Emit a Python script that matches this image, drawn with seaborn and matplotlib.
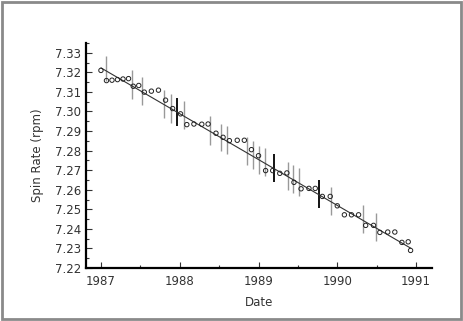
import numpy as np
import pandas as pd
import seaborn as sns
import matplotlib.pyplot as plt
from matplotlib.ticker import MultipleLocator, FormatStrFormatter
from matplotlib.patches import Rectangle

# measured spin rates
date = [1987.00, 1987.07, 1987.14, 1987.21, 1987.28, 1987.35, 1987.41, 1987.48,
        1987.55, 1987.64, 1987.73, 1987.82, 1987.91, 1988.01, 1988.09, 1988.18,
        1988.28, 1988.36, 1988.46, 1988.55, 1988.63, 1988.73, 1988.82, 1988.91,
        1989.00, 1989.09, 1989.18, 1989.27, 1989.36, 1989.45, 1989.54, 1989.64,
        1989.72, 1989.81, 1989.91, 1990.00, 1990.09, 1990.18, 1990.27, 1990.36,
        1990.46, 1990.54, 1990.64, 1990.73, 1990.82, 1990.90, 1990.93]
spin = [7.3210, 7.3158, 7.3160, 7.3163, 7.3166, 7.3168, 7.3129, 7.3133,
        7.3099, 7.3104, 7.3109, 7.3058, 7.3015, 7.2988, 7.2933, 7.2936,
        7.2935, 7.2936, 7.2889, 7.2868, 7.2851, 7.2853, 7.2853, 7.2805,
        7.2774, 7.2698, 7.2698, 7.2684, 7.2686, 7.2638, 7.2605, 7.2607,
        7.2607, 7.2566, 7.2566, 7.2518, 7.2472, 7.2472, 7.2472, 7.2418,
        7.2418, 7.2382, 7.2384, 7.2384, 7.2331, 7.2334, 7.2290]

# error bars
bar_x = [1987.06, 1987.39, 1987.52, 1987.80, 1987.89, 1987.97, 1988.05, 1988.38,
         1988.53, 1988.60, 1988.85, 1988.93, 1989.00, 1989.08, 1989.20, 1989.37,
         1989.44, 1989.51, 1989.77, 1989.92, 1990.32, 1990.49]
bar_hi = [7.3286, 7.3210, 7.3175, 7.3112, 7.3087, 7.3071, 7.3054, 7.2977,
          7.2938, 7.2926, 7.2870, 7.2848, 7.2822, 7.2812, 7.2783, 7.2744,
          7.2727, 7.2711, 7.2648, 7.2614, 7.2522, 7.2479]
bar_lo = [7.3155, 7.3066, 7.3032, 7.2967, 7.2942, 7.2928, 7.2909, 7.2831,
          7.2797, 7.2783, 7.2725, 7.2704, 7.2681, 7.2669, 7.2640, 7.2600,
          7.2583, 7.2566, 7.2506, 7.2472, 7.2378, 7.2338]
bar_dark = [0, 0, 0, 0, 0, 1, 0, 0, 0, 0, 0, 0, 0, 0, 1, 0, 0, 0, 1, 0, 0, 0]

# linear fit
fit_x = [1987.0, 1990.93]
fit_y = [7.3223, 7.2302]

sns.set_style("ticks")
plt.rcParams['font.family'] = ['DejaVu Sans']

fig = plt.figure(figsize=(4.63, 3.21), dpi=100)
ax = fig.add_axes([0.1857, 0.165, 0.747, 0.701])

for x, lo, hi, d in zip(bar_x, bar_lo, bar_hi, bar_dark):
    ax.vlines(x, lo, hi, color='black' if d else '#999999', lw=1.3 if d else 1.0, zorder=1)

sns.lineplot(x=fit_x, y=fit_y, color='#333333', lw=0.8, ax=ax, zorder=2)
sns.scatterplot(x=date, y=spin, marker='o', s=10, facecolor='none',
                edgecolor='#222222', linewidth=0.7, ax=ax, zorder=3)

ax.set_xlim(1986.81, 1991.2)
ax.set_ylim(7.22, 7.335)
ax.xaxis.set_major_locator(MultipleLocator(1))
ax.xaxis.set_minor_locator(MultipleLocator(0.5))
ax.yaxis.set_major_locator(MultipleLocator(0.01))
ax.yaxis.set_minor_locator(MultipleLocator(0.005))
ax.yaxis.set_major_formatter(FormatStrFormatter('%.2f'))
ax.tick_params(which='both', direction='in', colors='#333333', labelsize=8.5, width=0.8)
ax.tick_params(which='major', length=4)
ax.tick_params(which='minor', length=2)
ax.tick_params(axis='x', pad=5)
for s in ['top', 'right']:
    ax.spines[s].set_visible(False)
for s in ['left', 'bottom']:
    ax.spines[s].set_linewidth(1.6)
    ax.spines[s].set_color('black')

ax.set_xlabel('Date', fontsize=8.5, color='#333333', labelpad=6)
ax.set_ylabel('Spin Rate (rpm)', fontsize=8.5, color='#333333', labelpad=8)

fig.patches.append(Rectangle((0.004, 0.006), 0.992, 0.988, transform=fig.transFigure,
                             fill=False, edgecolor='#8a8a8a', lw=2))

fig.savefig('out.png', dpi=100)
